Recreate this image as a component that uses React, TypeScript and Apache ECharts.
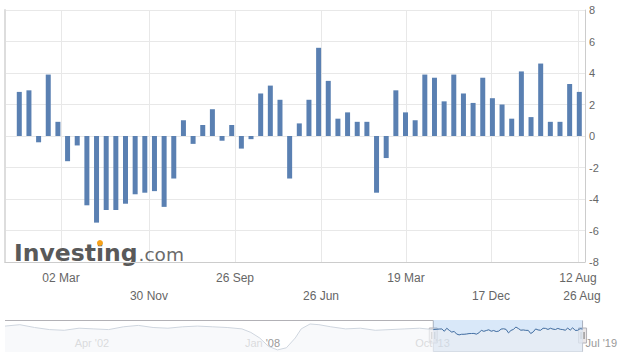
import React, { useEffect, useRef } from 'react';
import * as echarts from 'echarts';

// Monthly bar values (main chart)
const values = [
  2.8, 2.9, -0.4, 3.9, 0.9, -1.6, -0.6, -4.4, -5.5, -4.7,
  -4.7, -4.3, -3.7, -3.6, -3.5, -4.5, -2.7, 1.0, -0.5, 0.7,
  1.7, -0.3, 0.7, -0.8, -0.2, 2.7, 3.2, 2.3, -2.7, 0.8,
  2.3, 5.6, 3.5, 1.1, 1.5, 0.9, 0.9, -3.6, -1.4, 2.9,
  1.5, 1.0, 3.9, 3.7, 2.2, 3.9, 2.7, 2.1, 3.7, 2.4,
  2.0, 1.1, 4.1, 1.2, 4.6, 0.9, 0.9, 3.3, 2.8,
];
const firstBarYear = 2014 + 8 / 12;

// Main x-axis ticks (ordinal positions, in bar index units)
const topTickPos = [4.32, 22.34, 40.05, 57.86];
const topTickLabels = ['02 Mar', '26 Sep', '19 Mar', '12 Aug'];
const bottomTickPos = [13.43, 31.25, 48.85, 58.28];
const bottomTickLabels = ['30 Nov', '26 Jun', '17 Dec', '26 Aug'];
const gridTickPos = [4.32, 13.43, 22.34, 31.25, 40.05, 48.85, 57.86];

// Navigator history (year, value)
const navPreYears = [
  2000.0, 2000.5, 2001.0, 2001.5, 2002.0, 2002.5, 2003.0, 2003.5, 2004.0, 2004.5,
  2005.0, 2005.5, 2006.0, 2006.5, 2007.0, 2007.5, 2008.0, 2008.3, 2008.6, 2008.9,
  2009.2, 2009.5, 2009.8, 2010.0, 2010.3, 2010.6, 2011.0, 2011.5, 2012.0, 2012.5,
  2013.0, 2013.5, 2014.0, 2014.46,
];
const navPreValues = [
  7, 9, 5, 2, 1, 4, 3, 2, 6, 8,
  5, 4, 6, 7, 6, 5, 3, -2, -10, -22,
  -27, -24, -10, 3, 10, 9, 6, 3, 4, 1,
  2, 3, 4, 2,
];
const navTickPos = [2002.25, 2008, 2013.75, 2019.5];
const navTickLabels = ["Apr '02", "Jan '08", "Oct '13", "Jul '19"];
const selectionStart = 2014.46;
const selectionEnd = 2019.5;

const FONT = 'Arial, "Liberation Sans", sans-serif';

function lookup(positions: number[], labels: string[]) {
  return (val: number) => {
    const k = positions.findIndex((p) => Math.abs(p - val) < 1e-6);
    return k >= 0 ? labels[k] : '';
  };
}

function measure(text: string, font: string) {
  const c = document.createElement('canvas').getContext('2d');
  if (!c) return text.length * 10;
  c.font = font;
  return c.measureText(text).width;
}

export default function App() {
  const ref = useRef<HTMLDivElement>(null);

  useEffect(() => {
    document.body.style.margin = '0';
    const chart = echarts.init(ref.current!, undefined, { renderer: 'svg' });

    const barData = values.map((v, i) => [i, v]);
    const navAll = [
      ...navPreYears.map((y, i) => [y, navPreValues[i]]),
      ...values.map((v, i) => [firstBarYear + i / 12, v]),
    ];
    const navSel = navAll.filter((p) => p[0] >= selectionStart - 1e-9);

    const xMin = -1.48;
    const xMax = 58.59;

    const labelStyle = { color: '#666', fontSize: 12, fontFamily: FONT };

    chart.setOption({
      animation: false,
      backgroundColor: '#fff',
      grid: [
        { left: 5, right: 35, top: 10, height: 252 },
        { left: 5, right: 35, top: 320, height: 32 },
      ],
      xAxis: [
        {
          type: 'value', gridIndex: 0, min: xMin, max: xMax,
          axisLine: { show: true, onZero: false, lineStyle: { color: '#ccc' } },
          axisTick: { show: false, customValues: gridTickPos },
          splitLine: { show: true, lineStyle: { color: '#e8e8e8' } },
          axisLabel: { ...labelStyle, customValues: topTickPos, margin: 10, formatter: lookup(topTickPos, topTickLabels) },
        },
        {
          type: 'value', gridIndex: 0, position: 'bottom', offset: 18, min: xMin, max: xMax,
          axisLine: { show: false, onZero: false },
          axisTick: { show: false },
          splitLine: { show: false },
          axisLabel: { ...labelStyle, customValues: bottomTickPos, margin: 10, formatter: lookup(bottomTickPos, bottomTickLabels) },
        },
        {
          type: 'value', gridIndex: 1, min: 2000, max: 2019.5,
          axisLine: { show: false, onZero: false },
          axisTick: { show: false },
          splitLine: { show: false },
          axisLabel: {
            customValues: navTickPos, inside: true, align: 'left', margin: 4, padding: [0, 0, 0, 3],
            color: '#999', fontSize: 11, fontFamily: FONT, showMaxLabel: true,
            formatter: lookup(navTickPos, navTickLabels),
          },
        },
      ],
      yAxis: [
        {
          type: 'value', gridIndex: 0, position: 'right', min: -8, max: 8, interval: 2,
          axisLine: { show: true, onZero: false, lineStyle: { color: '#ccc' } },
          axisTick: { show: false },
          axisLabel: { margin: 4, color: '#666', fontSize: 11, fontFamily: FONT },
          splitLine: { show: true, lineStyle: { color: '#e8e8e8' } },
        },
        {
          type: 'value', gridIndex: 0, position: 'left', min: -8, max: 8,
          axisLine: { show: true, onZero: false, lineStyle: { color: '#ddd', width: 2 } },
          axisTick: { show: false }, axisLabel: { show: false }, splitLine: { show: false },
        },
        { type: 'value', gridIndex: 1, min: -30, max: 15.7, show: false },
      ],
      series: [
        {
          type: 'bar', xAxisIndex: 0, yAxisIndex: 0, data: barData, barWidth: 5,
          itemStyle: { color: '#5a80b2' }, silent: true,
        },
        {
          type: 'line', xAxisIndex: 2, yAxisIndex: 2, data: navAll, showSymbol: false, silent: true,
          lineStyle: { color: '#cfd6df', width: 1 },
          areaStyle: { color: '#f5f7fa', origin: 'start' },
        },
        {
          type: 'line', xAxisIndex: 2, yAxisIndex: 2, data: navSel, showSymbol: false, silent: true,
          lineStyle: { color: '#4572a7', width: 1 },
          areaStyle: { color: 'rgba(69,114,167,0.06)', origin: 'start' },
          markArea: {
            silent: true,
            itemStyle: { color: 'rgba(128,179,236,0.3)' },
            data: [[{ xAxis: selectionStart }, { xAxis: selectionEnd }]],
          },
        },
      ],
    });

    const hL = chart.convertToPixel({ xAxisIndex: 2 }, selectionStart) as number;
    const hR = chart.convertToPixel({ xAxisIndex: 2 }, selectionEnd) as number;
    const navTop = 320.5;
    const navBottom = 351.5;
    const navLeft = 5;

    const logoFont = 'bold 23.5px "DejaVu Sans"';
    const baseline = 260;
    const logoX = 14;
    const wInvest = measure('Invest', logoFont);
    const wI = measure('i', logoFont);
    const wInvesting = measure('Investing', logoFont);

    const handle = (x: number) => ({
      type: 'group',
      children: [
        { type: 'rect', shape: { x: x - 4, y: 328, width: 8, height: 15 }, style: { fill: '#ebe7e8', stroke: '#b2b1b6', lineWidth: 1 } },
        { type: 'line', shape: { x1: x - 1.5, y1: 332, x2: x - 1.5, y2: 339 }, style: { stroke: '#777', lineWidth: 1 } },
        { type: 'line', shape: { x1: x + 1.5, y1: 332, x2: x + 1.5, y2: 339 }, style: { stroke: '#777', lineWidth: 1 } },
      ],
    });

    chart.setOption({
      graphic: {
        elements: [
          {
            type: 'polyline', silent: true,
            shape: { points: [[navLeft, navTop], [hL, navTop], [hL, navBottom], [hR, navBottom], [hR, navTop], [hR, navTop]] },
            style: { stroke: '#b2b1b6', lineWidth: 1, fill: 'none' },
          },
          handle(hL),
          handle(hR),
          {
            type: 'text', x: logoX, y: baseline - 23.5 * 0.3,
            style: { text: 'Investing', fontSize: 23.5, fontWeight: 'bold', fontFamily: 'DejaVu Sans', fill: '#595959', verticalAlign: 'middle', align: 'left' },
          },
          {
            type: 'circle', shape: { cx: logoX + wInvest + wI / 2, cy: 243, r: 3 },
            style: { fill: '#f6a11a' },
          },
          {
            type: 'text', x: logoX + wInvesting + 1, y: baseline - 18.5 * 0.3,
            style: { text: '.com', fontSize: 18.5, fontFamily: 'DejaVu Sans', fill: '#6b6b6b', verticalAlign: 'middle', align: 'left' },
          },
        ],
      },
    });

    return () => chart.dispose();
  }, []);

  return (
    <div
      ref={ref}
      style={{ position: 'fixed', left: 0, top: 0, width: 620, height: 361, background: '#fff' }}
    />
  );
}
